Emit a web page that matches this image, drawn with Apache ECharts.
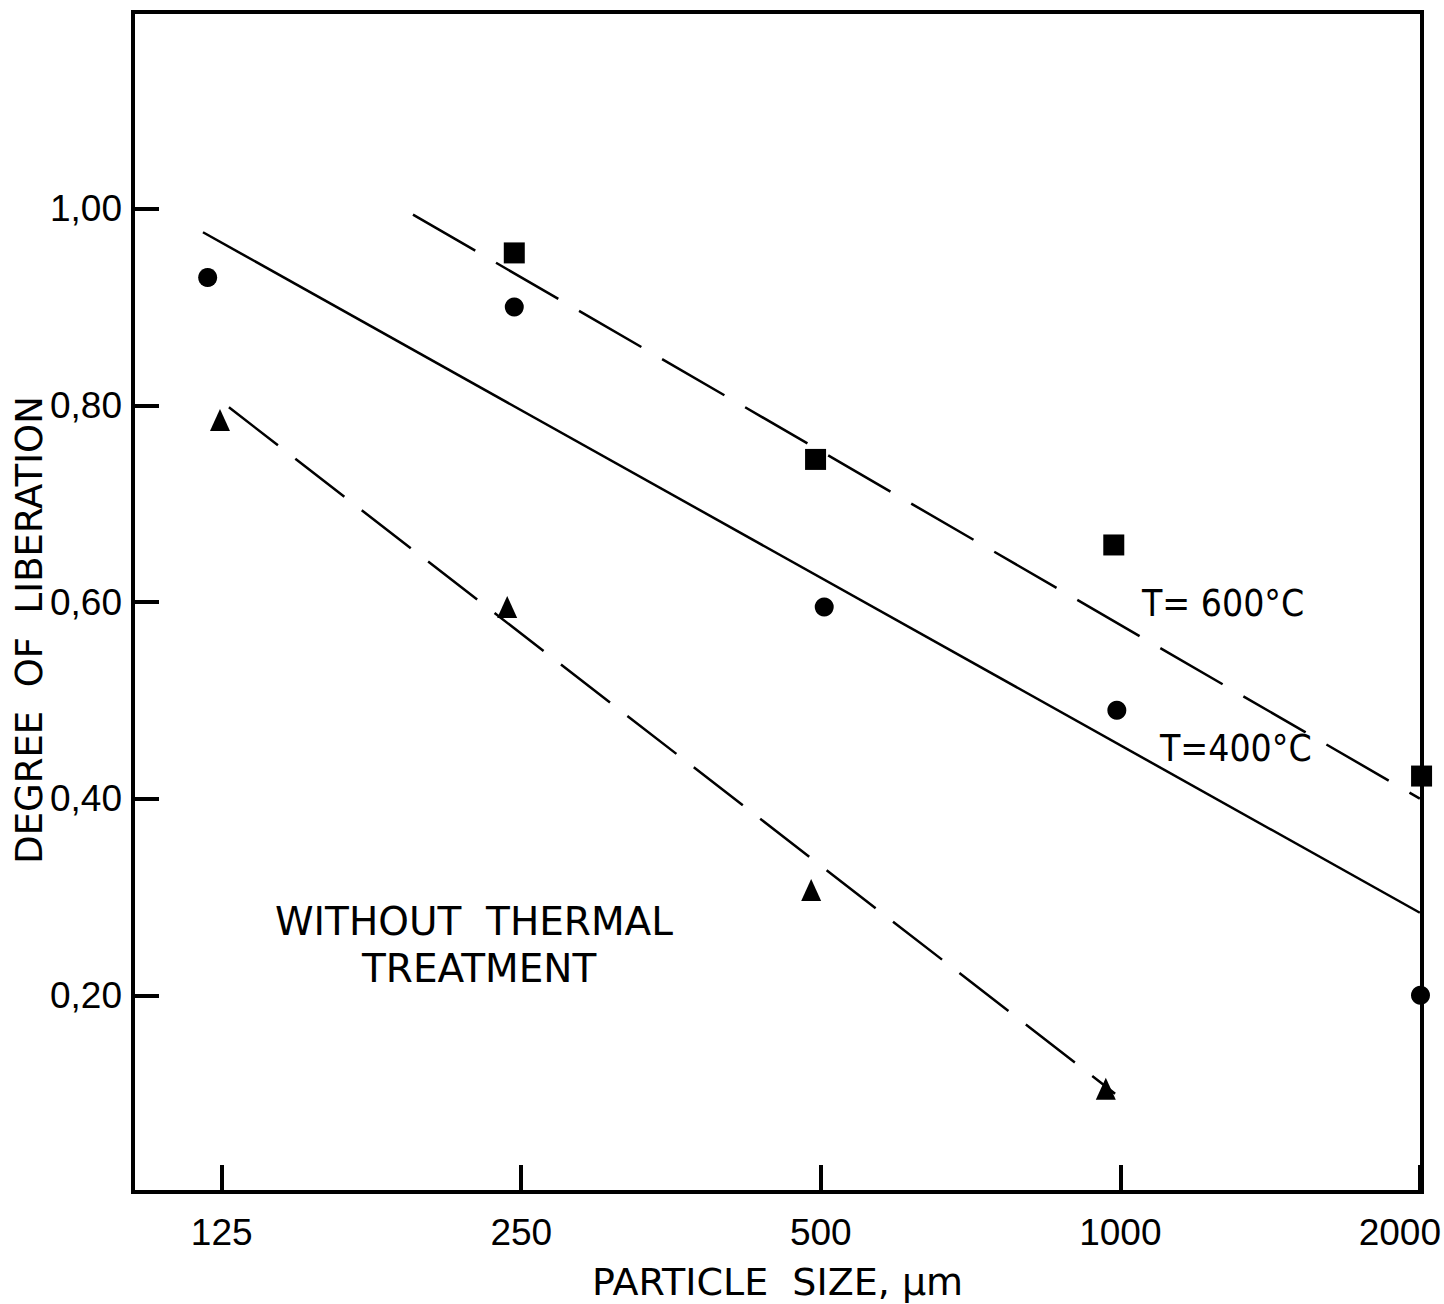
<!DOCTYPE html>
<html>
<head>
<meta charset="utf-8">
<title>Degree of liberation vs particle size</title>
<script src="https://cdn.jsdelivr.net/npm/echarts@6/dist/echarts.min.js"></script>
<style>
  html, body { margin: 0; padding: 0; background: #fff; }
  #chart { width: 1444px; height: 1304px; }
</style>
</head>
<body>
<div id="chart"></div>
<script>
// tick labels of the particle size axis (log scale, one step per doubling)
const sizeTicks = [125, 250, 500, 1000, 2000]

// T = 400 C (circles)
const size400 = [121, 246, 504, 992, 2003]
const lib400 = [0.93, 0.90, 0.595, 0.49, 0.20]

// T = 600 C (squares)
const size600 = [246, 494, 985, 2008]
const lib600 = [0.955, 0.745, 0.658, 0.423]

// without thermal treatment (triangles)
const sizeNone = [124.5, 242, 489, 967]
const libNone = [0.785, 0.595, 0.307, 0.105]

// fitted lines, end points
const fit400Size = [119.7, 2000]
const fit400Lib = [0.976, 0.284]
const fit600Size = [194.6, 2000]
const fit600Lib = [0.994, 0.40]
const fitNoneSize = [127.1, 988]
const fitNoneLib = [0.798, 0.10]

const lx = (s) => Math.log2(s / sizeTicks[0])
const pairs = (xs, ys) => xs.map((s, i) => [lx(s), ys[i]])

const ink = '#000'
const digitFont = '"Liberation Sans", sans-serif'
const textFont = '"DejaVu Sans", sans-serif'
const condFont = '"DejaVu Sans Condensed", "DejaVu Sans", sans-serif'

const chart = echarts.init(document.getElementById('chart'), null, { renderer: 'svg' })

const option = {
  backgroundColor: '#fff',
  animation: false,
  grid: {
    left: 133,
    right: 22,
    top: 12,
    bottom: 112,
    containLabel: false,
    outerBoundsMode: 'none',
    show: true,
    borderColor: ink,
    borderWidth: 4,
    backgroundColor: 'transparent',
  },
  xAxis: {
    type: 'value',
    min: lx(101.8),
    max: lx(2010),
    minInterval: 1,
    maxInterval: 1,
    splitLine: { show: false },
    axisLine: { onZero: false, lineStyle: { color: ink, width: 4 } },
    axisTick: { inside: true, length: 27, lineStyle: { color: ink, width: 4 } },
    axisLabel: {
      margin: 22,
      color: ink,
      fontFamily: digitFont,
      fontSize: 37,
      formatter: (v) => {
        const r = Math.round(v)
        if (Math.abs(v - r) > 1e-6 || sizeTicks[r] === undefined) return ''
        // the last label sits against the page edge
        return r === sizeTicks.length - 1 ? '{last|' + sizeTicks[r] + '}' : String(sizeTicks[r])
      },
      rich: {
        last: { fontFamily: digitFont, fontSize: 37, color: ink, padding: [0, 40, 0, 0] },
      },
    },
    name: 'PARTICLE  SIZE, µm',
    nameLocation: 'middle',
    nameGap: 71,
    nameTextStyle: { color: ink, fontFamily: textFont, fontSize: 38 },
  },
  yAxis: {
    type: 'value',
    min: 0,
    max: 1.2,
    interval: 0.2,
    splitLine: { show: false },
    axisLine: { onZero: false, lineStyle: { color: ink, width: 4 } },
    axisTick: { inside: true, length: 26, lineStyle: { color: ink, width: 4 } },
    axisLabel: {
      margin: 11,
      color: ink,
      fontFamily: digitFont,
      fontSize: 37,
      formatter: (v) => (v < 0.1 || v > 1.1 ? '' : v.toFixed(2).replace('.', ',')),
    },
    name: 'DEGREE  OF  LIBERATION',
    nameLocation: 'middle',
    nameRotate: 90,
    nameGap: 85,
    nameMoveOverlap: false,
    nameTextStyle: { color: ink, fontFamily: textFont, fontSize: 37, padding: [0, 56, 0, 0] },
  },
  series: [
    {
      name: 'fit 400',
      type: 'line',
      symbol: 'none',
      data: pairs(fit400Size, fit400Lib),
      lineStyle: { color: ink, width: 2.5 },
      silent: true,
    },
    {
      name: 'fit 600',
      type: 'line',
      symbol: 'none',
      data: pairs(fit600Size, fit600Lib),
      lineStyle: { color: ink, width: 2.5, type: [72, 24] },
      silent: true,
    },
    {
      name: 'fit none',
      type: 'line',
      symbol: 'none',
      data: pairs(fitNoneSize, fitNoneLib),
      lineStyle: { color: ink, width: 2.5, type: [62, 22] },
      silent: true,
    },
    {
      name: 'T=400°C',
      type: 'scatter',
      symbol: 'circle',
      symbolSize: 19,
      data: pairs(size400, lib400),
      itemStyle: { color: ink, opacity: 1 },
    },
    {
      name: 'T=600°C',
      type: 'scatter',
      symbol: 'rect',
      symbolSize: 21,
      data: pairs(size600, lib600),
      itemStyle: { color: ink, opacity: 1 },
    },
    {
      name: 'without thermal treatment',
      type: 'scatter',
      symbol: 'triangle',
      symbolSize: [20, 22],
      data: pairs(sizeNone, libNone),
      itemStyle: { color: ink, opacity: 1 },
    },
  ],
  graphic: [
    {
      type: 'text',
      left: 1142,
      top: 585,
      style: { text: 'T= 600°C', fill: ink, font: '37px ' + condFont },
    },
    {
      type: 'text',
      left: 1160,
      top: 730,
      style: { text: 'T=400°C', fill: ink, font: '37px ' + condFont },
    },
    {
      type: 'text',
      left: 275,
      top: 902,
      style: { text: 'WITHOUT  THERMAL', fill: ink, font: '39px ' + textFont },
    },
    {
      type: 'text',
      left: 362,
      top: 949,
      style: { text: 'TREATMENT', fill: ink, font: '39px ' + textFont },
    },
  ],
}

chart.setOption(option)
</script>
</body>
</html>
